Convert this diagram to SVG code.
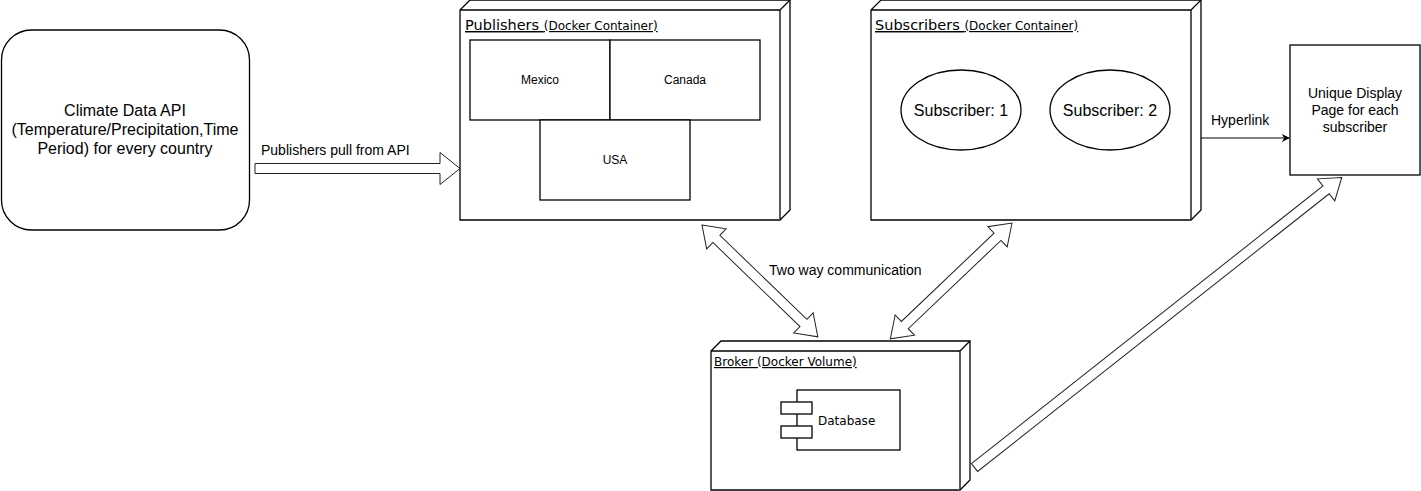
<svg xmlns="http://www.w3.org/2000/svg" width="1421" height="491" viewBox="0 0 1421 491">
  <style>
    .box { fill: #ffffff; stroke: #000000; stroke-width: 1.3; }
    .node3d { fill: #ffffff; stroke: #000000; stroke-width: 1.3; stroke-linejoin: miter; }
    .blk { fill: #ffffff; stroke: #222222; stroke-width: 1; stroke-linejoin: miter; }
    .t { font-family: "Liberation Sans", Arial, sans-serif; fill: #000000; }
    .d { font-family: "DejaVu Sans", Verdana, sans-serif; fill: #000000; }
    .c { text-anchor: middle; }
  </style>
  <defs>
    <marker id="arr" viewBox="0 0 10 10" refX="9" refY="5" markerWidth="8" markerHeight="8" markerUnits="userSpaceOnUse" orient="auto">
      <path d="M0,0 L10,5 L0,10 L3,5 Z" fill="#000000"/>
    </marker>
  </defs>
  <rect width="1421" height="491" fill="#ffffff"/>

  <g id="climate-api">
    <rect class="box" x="1.5" y="30" width="248" height="200" rx="30" ry="30"/>
    <text class="t c" font-size="16" x="125" y="116">Climate Data API</text>
    <text class="t c" font-size="16" x="125" y="135">(Temperature/Precipitation,Time</text>
    <text class="t c" font-size="16" x="125" y="154">Period) for every country</text>
  </g>

  <g id="publishers">
    <path class="node3d" d="M460,10 L470,0 H790 V210 L780,220 H460 Z"/>
    <path class="node3d" fill="none" d="M460,10 H780 V220 M780,10 L790,0"/>
    <text class="d" x="465" y="30" text-decoration="underline"><tspan font-size="14.5">Publishers </tspan><tspan font-size="12">(Docker Container)</tspan></text>
    <g id="mexico">
      <rect class="box" x="470" y="40" width="140" height="80"/>
      <text class="t c" font-size="12" x="540" y="84">Mexico</text>
    </g>
    <g id="canada">
      <rect class="box" x="610" y="40" width="150" height="80"/>
      <text class="t c" font-size="12" x="685" y="84">Canada</text>
    </g>
    <g id="usa">
      <rect class="box" x="540" y="120" width="150" height="80"/>
      <text class="t c" font-size="12" x="615" y="164">USA</text>
    </g>
  </g>

  <g id="subscribers">
    <path class="node3d" d="M871,10 L881,0 H1201 V210 L1191,220 H871 Z"/>
    <path class="node3d" fill="none" d="M871,10 H1191 V220 M1191,10 L1201,0"/>
    <text class="d" x="875" y="30" text-decoration="underline"><tspan font-size="14.5">Subscribers </tspan><tspan font-size="12">(Docker Container)</tspan></text>
    <g id="subscriber-1">
      <ellipse class="box" cx="961" cy="110" rx="60" ry="40" stroke-width="1"/>
      <text class="t c" font-size="16" x="961" y="116">Subscriber: 1</text>
    </g>
    <g id="subscriber-2">
      <ellipse class="box" cx="1110" cy="110" rx="60" ry="40" stroke-width="1"/>
      <text class="t c" font-size="16" x="1110" y="116">Subscriber: 2</text>
    </g>
  </g>

  <g id="display-page">
    <rect class="box" x="1290" y="45" width="130" height="130"/>
    <text class="t c" font-size="14" x="1355" y="98">Unique Display</text>
    <text class="t c" font-size="14" x="1355" y="115">Page for each</text>
    <text class="t c" font-size="14" x="1355" y="132">subscriber</text>
  </g>

  <g id="broker">
    <path class="node3d" d="M711,351 L721,341 H970 V480 L960,490 H711 Z"/>
    <path class="node3d" fill="none" d="M711,351 H960 V490 M960,351 L970,341"/>
    <text class="d" font-size="12" x="714" y="366" text-decoration="underline">Broker (Docker Volume)</text>
    <g id="database">
      <rect class="box" x="797" y="390" width="103" height="60" stroke-width="1.2"/>
      <rect class="box" x="781" y="402" width="31" height="12" stroke-width="1.2"/>
      <rect class="box" x="781" y="426" width="31" height="12" stroke-width="1.2"/>
      <text class="d" font-size="12" x="818" y="425">Database</text>
    </g>
  </g>

  <g id="connectors">
    <path class="blk" transform="translate(255,168.5)" d="M0,-5 H185 V-16 L205,0 L185,16 V5 H0 Z"/>
    <text class="t" font-size="14" x="261" y="155">Publishers pull from API</text>

    <path class="blk" transform="translate(702,225) rotate(44)" d="M0,0 L20,-14 V-5 H141 V-14 L161,0 L141,14 V5 H20 V14 Z"/>
    <path class="blk" transform="translate(1012,223) rotate(136.4)" d="M0,0 L20,-14 V-5 H148 V-14 L168,0 L148,14 V5 H20 V14 Z"/>
    <text class="t" font-size="14" x="769" y="275">Two way communication</text>

    <path class="blk" transform="translate(974.5,467.5) rotate(-38.3)" d="M0,-5 H448 V-14 L468,0 L448,14 V5 H0 Z"/>

    <line x1="1201" y1="138" x2="1289" y2="138" stroke="#000000" stroke-width="1" marker-end="url(#arr)"/>
    <text class="t" font-size="14" x="1211" y="125">Hyperlink</text>
  </g>
</svg>
